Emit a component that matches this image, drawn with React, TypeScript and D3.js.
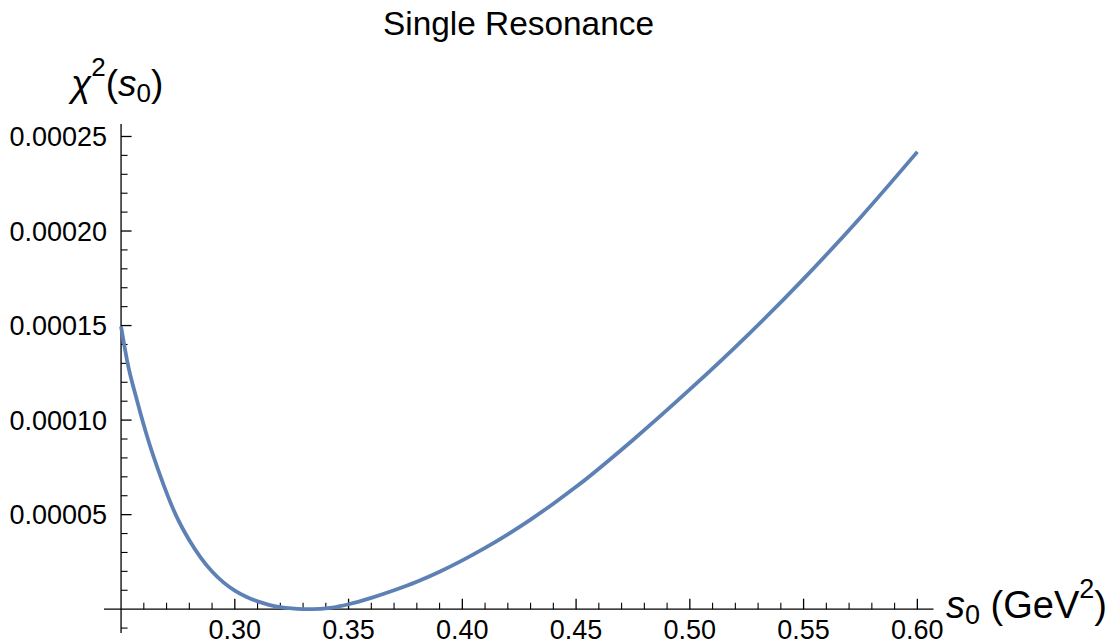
import React from "react";
import * as d3 from "d3";

const titleText = "Single Resonance";
const sValues = [
  0.25, 0.2529, 0.2571, 0.2618, 0.2674, 0.274, 0.28, 0.285, 0.29, 0.295, 0.3, 0.305, 0.31, 0.315, 0.32, 0.325, 0.33, 0.334,
  0.342, 0.35, 0.36, 0.37, 0.38, 0.39, 0.4, 0.41, 0.42, 0.43, 0.44, 0.45, 0.475, 0.5, 0.525, 0.55, 0.575, 0.6,
];
const chi2Values = [
  1.495e-4, 1.3e-4, 1.1e-4, 9.0e-5, 7.0e-5, 5.0e-5, 3.645e-5, 2.732e-5, 1.994e-5, 1.419e-5, 9.81e-6, 6.56e-6, 4.11e-6, 2.31e-6, 1.13e-6, 4.3e-7, 8e-8, 0,
  7.5e-7, 2.6e-6, 6.0e-6, 1.0e-5, 1.45e-5, 1.98e-5, 2.58e-5, 3.24e-5, 3.96e-5, 4.74e-5, 5.58e-5, 6.47e-5, 8.95e-5, 1.162e-4, 1.4445e-4, 1.747e-4, 2.072e-4, 2.419e-4,
];
const xTickValues = [0.3, 0.35, 0.4, 0.45, 0.5, 0.55, 0.6];
const xTickLabels = ["0.30", "0.35", "0.40", "0.45", "0.50", "0.55", "0.60"];
const yTickValues = [0.00005, 0.0001, 0.00015, 0.0002, 0.00025];
const yTickLabels = ["0.00005", "0.00010", "0.00015", "0.00020", "0.00025"];
const xDomain = [0.2425, 0.6071];
const yDomain = [-0.0000126, 0.0002566];

const W = 1119;
const H = 643;
const FONT = "Arial, 'Liberation Sans', Helvetica, sans-serif";

export default function App() {
  const x = d3.scaleLinear().domain(xDomain).range([104, 933.5]);
  const y = d3.scaleLinear().domain(yDomain).range([633, 124]);
  const x0 = x(0.25);
  const y0 = y(0);

  const pts = sValues.map((s, i) => [s, chi2Values[i]] as [number, number]);
  const line = d3
    .line<[number, number]>()
    .x((d) => x(d[0]))
    .y((d) => y(d[1]))
    .curve(d3.curveMonotoneX);

  const xMinor = d3
    .range(25, 61)
    .map((v) => v / 100)
    .filter((v) => !xTickValues.some((t) => Math.abs(t - v) < 1e-9) && Math.abs(v - 0.25) > 1e-9);
  const yMinor = d3
    .range(-1, 26)
    .map((v) => v / 100000)
    .filter((v) => !yTickValues.some((t) => Math.abs(t - v) < 1e-12) && v !== 0);

  return (
    <svg width={W} height={H} style={{ position: "absolute", left: 0, top: 0, background: "#fff" }} fontFamily={FONT}>
      <text x={518.5} y={35} fontSize={33.4} textAnchor="middle" fill="#000">{titleText}</text>

      {/* axes */}
      <line x1={x(xDomain[0])} x2={x(xDomain[1])} y1={y0} y2={y0} stroke="#000" strokeWidth={1.3} />
      <line x1={x0} x2={x0} y1={y(yDomain[0])} y2={y(yDomain[1])} stroke="#000" strokeWidth={1.3} />

      {/* x ticks */}
      {xTickValues.map((v, i) => (
        <g key={"xt" + i}>
          <line x1={x(v)} x2={x(v)} y1={y0} y2={y0 - 10.5} stroke="#000" strokeWidth={1.3} />
          <text x={x(v)} y={639} fontSize={27} textAnchor="middle" fill="#000">{xTickLabels[i]}</text>
        </g>
      ))}
      {xMinor.map((v, i) => (
        <line key={"xm" + i} x1={x(v)} x2={x(v)} y1={y0} y2={y0 - 6.5} stroke="#000" strokeWidth={1.1} />
      ))}

      {/* y ticks */}
      {yTickValues.map((v, i) => (
        <g key={"yt" + i}>
          <line x1={x0} x2={x0 + 10.5} y1={y(v)} y2={y(v)} stroke="#000" strokeWidth={1.3} />
          <text x={107} y={y(v) + 9.5} fontSize={27} textAnchor="end" fill="#000">{yTickLabels[i]}</text>
        </g>
      ))}
      {yMinor.map((v, i) => (
        <line key={"ym" + i} x1={x0} x2={x0 + 6.5} y1={y(v)} y2={y(v)} stroke="#000" strokeWidth={1.1} />
      ))}

      {/* curve */}
      <path d={line(pts) ?? ""} fill="none" stroke="#5E81B5" strokeWidth={3.8} strokeLinecap="butt" />

      {/* y axis label */}
      <text x={71} y={96} fontSize={37} fill="#000">
        <tspan fontStyle="italic">χ</tspan>
        <tspan fontSize={26} dy={-20}>2</tspan>
        <tspan dy={20}>(</tspan>
        <tspan fontStyle="italic">s</tspan>
        <tspan fontSize={26} dy={6}>0</tspan>
        <tspan dy={-6}>)</tspan>
      </text>

      {/* x axis label */}
      <text x={946} y={618} fontSize={38} fill="#000">
        <tspan fontStyle="italic">s</tspan>
        <tspan fontSize={27} dy={6}>0</tspan>
        <tspan dy={-6}> (GeV</tspan>
        <tspan fontSize={27} dy={-20}>2</tspan>
        <tspan dy={20}>)</tspan>
      </text>
    </svg>
  );
}
